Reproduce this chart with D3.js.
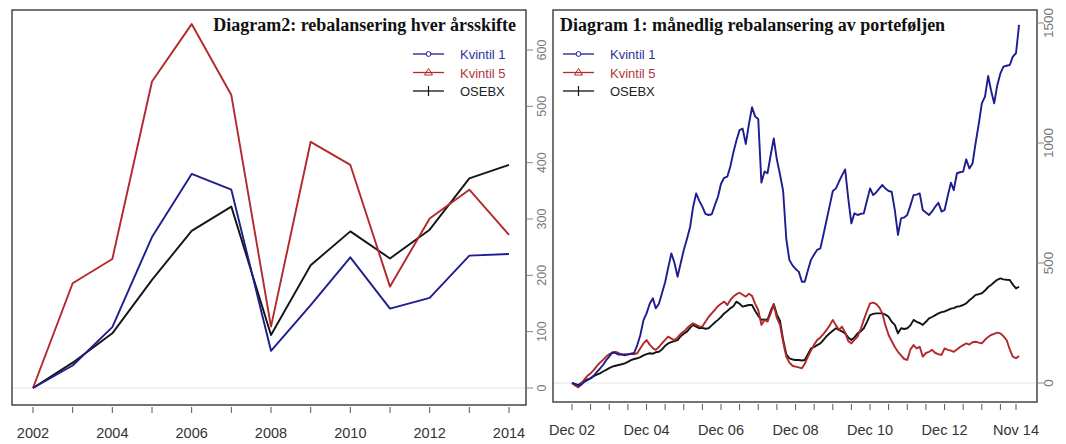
<!DOCTYPE html>
<html>
<head>
<meta charset="utf-8">
<script src="https://cdn.jsdelivr.net/npm/d3@7"></script>
<style>
  body { margin: 0; background: #fff; }
  svg text { font-family: "Liberation Sans", Arial, sans-serif; }
  svg text.tittel { font-family: "Liberation Serif", "Times New Roman", serif; }
</style>
</head>
<body>
<svg id="chart" width="1066" height="444"></svg>
<script>
// Diagram 2 - yearly rebalancing (left panel)
var aar = [2002, 2003, 2004, 2005, 2006, 2007, 2008, 2009, 2010, 2011, 2012, 2013, 2014];
var aarKvintil1 = [0, 40, 108, 268, 380, 352, 66, 147, 232, 141, 160, 235, 238];
var aarKvintil5 = [0, 186, 229, 544, 646, 520, 109, 437, 396, 180, 301, 352, 272];
var aarOsebx    = [0, 45, 97, 192, 279, 322, 94, 218, 278, 230, 281, 372, 396];
var aarTicks = [0, 100, 200, 300, 400, 500, 600];

// Diagram 1 - monthly rebalancing (right panel), one value per month from Dec 2002
var mndStart = new Date(Date.UTC(2002, 11, 1));
var mndKvintil1 = [
  0, -5, -12, -8, 5, 12, 20, 30, 45, 60, 75, 95, 110, 128, 125, 118, 120, 115, 120, 122,
  125, 158, 200, 262, 290, 330, 353, 311, 330, 374, 420, 480, 540, 500, 443, 500, 554, 600, 650, 730,
  790, 760, 735, 705, 700, 703, 740, 776, 830, 855, 860, 900, 960, 1010, 1054, 1060, 996, 1080, 1149, 1110,
  1100, 835, 881, 874, 950, 1019, 930, 870, 800, 600, 513, 490, 475, 464, 422, 422, 470, 513, 535, 555,
  561, 620, 679, 740, 800, 811, 840, 865, 890, 770, 665, 707, 700, 705, 707, 760, 811, 783, 795, 810,
  825, 810, 800, 797, 720, 617, 686, 690, 700, 740, 783, 785, 790, 721, 710, 700, 715, 735, 751, 714,
  721, 780, 835, 804, 874, 878, 881, 932, 894, 915, 1000, 1080, 1165, 1193, 1279, 1220, 1165, 1240, 1290, 1318,
  1322, 1325, 1360, 1374, 1492
];
var mndKvintil5 = [
  0, -10, -18, -5, 15, 30, 40, 54, 70, 85, 96, 110, 120, 125, 130, 125, 117, 120, 118, 122,
  120, 124, 145, 165, 179, 160, 145, 138, 150, 165, 180, 193, 185, 179, 190, 205, 214, 228, 240, 249,
  242, 236, 235, 255, 275, 290, 305, 320, 330, 339, 325, 345, 360, 370, 376, 368, 360, 372, 363, 330,
  304, 242, 263, 256, 290, 325, 270, 242, 170, 110, 85, 72, 68, 65, 61, 80, 110, 135, 160, 179,
  190, 205, 221, 240, 263, 240, 221, 235, 210, 175, 165, 180, 193, 225, 263, 300, 332, 335, 329, 315,
  290, 240, 200, 175, 150, 130, 115, 100, 96, 140, 158, 144, 151, 110, 125, 130, 138, 125, 120, 117,
  144, 138, 135, 130, 140, 150, 158, 165, 160, 170, 172, 168, 165, 180, 192, 200, 205, 210, 207, 195,
  179, 140, 110, 103, 113
];
var mndOsebx = [
  0, -5, -8, 0, 10, 15, 19, 28, 35, 40, 48, 55, 62, 68, 72, 75, 78, 82, 88, 95,
  100, 103, 108, 115, 120, 124, 122, 128, 130, 140, 155, 165, 170, 175, 179, 195, 205, 214, 230, 242,
  235, 228, 230, 226, 228, 240, 252, 263, 275, 290, 300, 311, 320, 339, 330, 318, 322, 325, 325, 300,
  280, 263, 265, 263, 300, 329, 285, 260, 180, 120, 103, 98, 96, 96, 94, 96, 120, 144, 150, 158,
  165, 180, 195, 207, 218, 228, 220, 215, 207, 190, 179, 190, 207, 215, 228, 255, 283, 288, 290, 290,
  290, 285, 276, 255, 242, 207, 228, 225, 228, 240, 263, 255, 250, 242, 255, 269, 275, 283, 290, 295,
  298, 304, 310, 312, 318, 320, 325, 332, 345, 355, 367, 370, 374, 385, 400, 408, 420, 430, 436, 432,
  430, 429, 410, 394, 401
];
var mndTicks = [0, 500, 1000, 1500];

var navn = ["Kvintil 1", "Kvintil 5", "OSEBX"];
var farger = ["#1d1d8e", "#b3282c", "#141414"];
var tekstFarger = ["#2b3596", "#b0383a", "#222"];

var svg = d3.select("#chart");

function tegnPanel(p) {
  var g = svg.append("g");

  // light zero line
  g.append("line")
    .attr("x1", p.box[0]).attr("x2", p.box[2])
    .attr("y1", p.y(0)).attr("y2", p.y(0))
    .attr("stroke", "#e4e4e4").attr("stroke-width", 1.2);

  var line = d3.line()
    .x(function(d) { return p.x(d[0]); })
    .y(function(d) { return p.y(d[1]); });

  // draw black first, blue on top like the picture
  [2, 1, 0].forEach(function(i) {
    var pts = p.xs.map(function(x, k) { return [x, p.serier[i][k]]; });
    g.append("path")
      .datum(pts)
      .attr("d", line)
      .attr("fill", "none")
      .attr("stroke", farger[i])
      .attr("stroke-width", 1.9)
      .attr("stroke-linejoin", "round");
  });

  // frame
  g.append("rect")
    .attr("x", p.box[0]).attr("y", p.box[1])
    .attr("width", p.box[2] - p.box[0]).attr("height", p.box[3] - p.box[1])
    .attr("fill", "none").attr("stroke", "#3a3a3a").attr("stroke-width", 1.4);

  // x axis (below frame)
  var xAxis = g.append("g").attr("transform", "translate(0," + p.box[3] + ")");
  xAxis.selectAll("line").data(p.xTicks).enter().append("line")
    .attr("x1", p.x).attr("x2", p.x)
    .attr("y1", 2).attr("y2", 8)
    .attr("stroke", "#555");
  xAxis.selectAll("text").data(p.xLabels).enter().append("text")
    .attr("x", p.x)
    .attr("y", p.xLabelY)
    .attr("text-anchor", "middle")
    .attr("font-size", 14.5)
    .attr("fill", "#333")
    .text(p.xFormat);

  // y axis (right side, labels rotated)
  var yAxis = g.append("g").attr("transform", "translate(" + p.box[2] + ",0)");
  yAxis.selectAll("line").data(p.yTicks).enter().append("line")
    .attr("x1", 1).attr("x2", 7)
    .attr("y1", p.y).attr("y2", p.y)
    .attr("stroke", "#888");
  yAxis.selectAll("text").data(p.yTicks).enter().append("text")
    .attr("transform", function(d) { return "translate(" + p.yLabelX + "," + p.y(d) + ") rotate(-90)"; })
    .attr("text-anchor", "middle")
    .attr("font-size", p.yFont)
    .attr("fill", "#777")
    .text(function(d) { return d; });

  // title
  g.append("text")
    .attr("class", "tittel")
    .attr("x", p.titleX).attr("y", 31)
    .attr("text-anchor", p.titleAnchor)
    .attr("font-weight", "bold")
    .attr("font-size", 18)
    .attr("fill", "#111")
    .text(p.tittel);

  // legend
  var leg = g.selectAll(".leg").data(navn).enter().append("g")
    .attr("transform", function(d, i) { return "translate(" + p.legX + "," + (54 + i * 18.5) + ")"; });
  leg.append("line")
    .attr("x1", 0).attr("x2", 31)
    .attr("stroke", function(d, i) { return farger[i]; })
    .attr("stroke-width", 1.3);
  leg.filter(function(d, i) { return i === 0; }).append("circle")
    .attr("cx", 15.5).attr("r", 2.4)
    .attr("fill", "#fff").attr("stroke", farger[0]);
  leg.filter(function(d, i) { return i === 1; }).append("path")
    .attr("d", "M15.5,-4L19.5,2.5L11.5,2.5Z")
    .attr("fill", "none").attr("stroke", farger[1]);
  leg.filter(function(d, i) { return i === 2; }).append("line")
    .attr("x1", 15.5).attr("x2", 15.5).attr("y1", -5).attr("y2", 5)
    .attr("stroke", farger[2]).attr("stroke-width", 1.2);
  leg.append("text")
    .attr("x", 47).attr("y", 5)
    .attr("font-size", 13)
    .attr("fill", function(d, i) { return tekstFarger[i]; })
    .text(function(d) { return d; });
}

// left panel
var xAar = d3.scaleLinear().domain([2002, 2014]).range([33, 509]);
var yAar = d3.scaleLinear().domain([0, 600]).range([388, 50]);
tegnPanel({
  box: [12, 10, 526, 405],
  x: xAar, y: yAar,
  xs: aar,
  serier: [aarKvintil1, aarKvintil5, aarOsebx],
  xTicks: aar,
  xLabels: aar.filter(function(a) { return a % 2 === 0; }),
  xFormat: function(d) { return d; },
  xLabelY: 33,
  yTicks: aarTicks, yLabelX: 20, yFont: 12.5,
  tittel: "Diagram2: rebalansering hver årsskifte",
  titleX: 516, titleAnchor: "end",
  legX: 413
});

// right panel
var mndDatoer = mndKvintil1.map(function(v, i) { return d3.utcMonth.offset(mndStart, i); });
var mndSlutt = new Date(Date.UTC(2014, 10, 1));
var xMnd = d3.scaleUtc().domain([mndStart, mndSlutt]).range([572, 1016]);
var yMnd = d3.scaleLinear().domain([0, 1500]).range([383, 23]);
// ticks every half year (Dec / Jun), plus the last month
var halvaar = d3.range(0, 24).map(function(k) { return d3.utcMonth.offset(mndStart, 6 * k); });
halvaar.push(mndSlutt);
var mndLabels = halvaar.filter(function(d, k) { return k % 4 === 0 && k < 24; });
mndLabels.push(mndSlutt);
tegnPanel({
  box: [553, 10, 1037, 402],
  x: xMnd, y: yMnd,
  xs: mndDatoer,
  serier: [mndKvintil1, mndKvintil5, mndOsebx],
  xTicks: halvaar,
  xLabels: mndLabels,
  xFormat: d3.utcFormat("%b %y"),
  xLabelY: 33,
  yTicks: mndTicks, yLabelX: 16, yFont: 13.5,
  tittel: "Diagram 1: månedlig rebalansering av porteføljen",
  titleX: 560, titleAnchor: "start",
  legX: 563
});
</script>
</body>
</html>
